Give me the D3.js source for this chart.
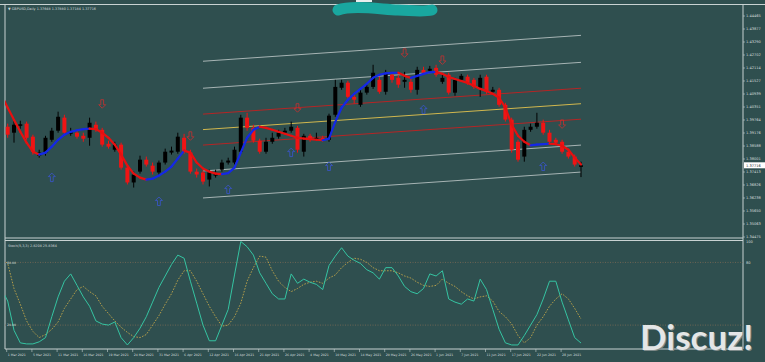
<!DOCTYPE html>
<html><head><meta charset="utf-8">
<script src="https://cdn.jsdelivr.net/npm/d3@7"></script>
<style>html,body{margin:0;padding:0;background:#2f4f4f;overflow:hidden}</style>
</head><body><svg id="c" width="765" height="362"></svg>
<script>
// ---------- data ----------
const chartTitle = "▼ GBPUSD,Daily 1.37648 1.37880 1.37184 1.37716";
const stochTitle = "Stoch(5,3,3) 2.8208 25.8364";
const openP = [1.3968,1.3946,1.3919,1.3950,1.3960,1.3901,1.3815,1.3829,1.3887,1.3928,
1.3987,1.3914,1.3919,1.3905,1.3896,1.3955,1.3932,1.3869,1.3842,1.3865,
1.3761,1.3694,1.3743,1.3797,1.3770,1.3739,1.3784,1.3829,1.3833,1.3896,
1.3829,1.3743,1.3739,1.3707,1.3725,1.3752,1.3784,1.3784,1.3833,1.3987,
1.3941,1.3883,1.3833,1.3878,1.3901,1.3919,1.3928,1.3941,1.3833,1.3905,
1.3892,1.3896,1.3887,1.4000,1.4122,1.4145,1.4081,1.4045,1.4100,1.4126,
1.4158,1.4104,1.4181,1.4167,1.4149,1.4149,1.4113,1.4203,1.4199,1.4212,
1.4149,1.4181,1.4100,1.4158,1.4172,1.4158,1.4122,1.4172,1.4104,1.4113,
1.4045,1.3978,1.3878,1.3811,1.3932,1.3946,1.3964,1.3919,1.3887,1.3878,
1.3833,1.3811,1.37648];
const highP = [1.3987,1.3960,1.3982,1.3973,1.3969,1.3910,1.3842,1.3905,1.3941,1.4014,
1.4000,1.3941,1.3932,1.3919,1.3987,1.3969,1.3941,1.3883,1.3878,1.3874,
1.3770,1.3743,1.3815,1.3811,1.3784,1.3793,1.3847,1.3856,1.3919,1.3914,
1.3842,1.3757,1.3748,1.3752,1.3752,1.3797,1.3806,1.3856,1.4000,1.4009,
1.3955,1.3892,1.3896,1.3919,1.3932,1.3941,1.3969,1.3950,1.3914,1.3914,
1.3919,1.3905,1.4005,1.4158,1.4158,1.4154,1.4095,1.4113,1.4140,1.4226,
1.4172,1.4203,1.4194,1.4181,1.4194,1.4163,1.4217,1.4217,1.4221,1.4226,
1.4181,1.4190,1.4167,1.4185,1.4181,1.4167,1.4181,1.4181,1.4126,1.4122,
1.4054,1.3987,1.3887,1.3946,1.3960,1.4009,1.3978,1.3932,1.3896,1.3887,
1.3842,1.3820,1.37880];
const lowP = [1.3905,1.3896,1.3874,1.3937,1.3887,1.3820,1.3806,1.3815,1.3878,1.3919,
1.3910,1.3905,1.3892,1.3878,1.3860,1.3923,1.3856,1.3847,1.3833,1.3752,
1.3685,1.3671,1.3734,1.3766,1.3730,1.3725,1.3775,1.3820,1.3824,1.3824,
1.3734,1.3716,1.3685,1.3676,1.3716,1.3743,1.3775,1.3775,1.3824,1.3928,
1.3874,1.3824,1.3824,1.3869,1.3892,1.3910,1.3919,1.3829,1.3811,1.3878,
1.3883,1.3878,1.3878,1.3991,1.4113,1.4072,1.4050,1.4036,1.4091,1.4117,
1.4095,1.4091,1.4145,1.4122,1.4122,1.4100,1.4091,1.4181,1.4190,1.4172,
1.4140,1.4091,1.4086,1.4149,1.4136,1.4117,1.4081,1.4095,1.4095,1.4036,
1.3969,1.3829,1.3788,1.3788,1.3923,1.3937,1.3910,1.3869,1.3865,1.3824,
1.3802,1.3766,1.37184];
const closeP = [1.3919,1.3910,1.3955,1.3957,1.3896,1.3833,1.3829,1.3896,1.3928,1.3991,
1.3919,1.3923,1.3901,1.3892,1.3964,1.3932,1.3865,1.3856,1.3865,1.3761,
1.3694,1.3730,1.3797,1.3775,1.3743,1.3784,1.3833,1.3838,1.3901,1.3833,
1.3743,1.3730,1.3698,1.3739,1.3734,1.3784,1.3793,1.3842,1.3987,1.3941,
1.3883,1.3833,1.3878,1.3896,1.3919,1.3928,1.3946,1.3842,1.3905,1.3887,
1.3896,1.3887,1.3996,1.4126,1.4145,1.4081,1.4068,1.4100,1.4126,1.4190,
1.4104,1.4190,1.4158,1.4136,1.4158,1.4113,1.4203,1.4190,1.4208,1.4181,
1.4167,1.4100,1.4158,1.4176,1.4145,1.4126,1.4167,1.4104,1.4113,1.4045,
1.3978,1.3842,1.3797,1.3932,1.3946,1.3964,1.3919,1.3878,1.3874,1.3833,
1.3811,1.3775,1.37716];
const trendLine = [1.4090,1.4032,1.3977,1.3923,1.3874,1.3833,1.3820,1.3829,1.3856,1.3887,
1.3910,1.3923,1.3930,1.3935,1.3937,1.3935,1.3919,1.3896,1.3865,1.3820,
1.3770,1.3734,1.3716,1.3707,1.3711,1.3725,1.3743,1.3766,1.3802,1.3838,
1.3829,1.3784,1.3757,1.3743,1.3734,1.3732,1.3736,1.3761,1.3829,1.3896,
1.3932,1.3946,1.3941,1.3932,1.3923,1.3914,1.3905,1.3896,1.3892,1.3890,
1.3887,1.3885,1.3892,1.3968,1.4032,1.4068,1.4095,1.4117,1.4140,1.4167,
1.4181,1.4187,1.4189,1.4190,1.4176,1.4167,1.4176,1.4185,1.4192,1.4194,
1.4185,1.4171,1.4162,1.4153,1.4144,1.4131,1.4117,1.4108,1.4095,1.4077,
1.4032,1.3955,1.3905,1.3878,1.3862,1.3865,1.3867,1.3869,1.3867,1.3860,
1.3842,1.3806,1.3775];
const channelBars = [32, 92];
const channelMid = [1.3933, 1.4050];
const channelDevs = [0.0070, 0.0187, 0.0309];
const sellBars = [16, 30, 47, 64, 70, 89];
const sellPrices = [1.4050, 1.3905, 1.4032, 1.4280, 1.4248, 1.3959];
const buyBars = [8, 25, 36, 46, 52, 67, 86];
const buyPrices = [1.3716, 1.3608, 1.3662, 1.3829, 1.3766, 1.4023, 1.3766];
const stochMain = [55,43,15,3,2,2,4,8,28,47,62,69,58,47,38,24,21,20,23,8,
1,8,17,28,42,56,67,78,87,84,62,41,20,5,5,20,35,68,100,95,
87,70,60,50,45,45,69,60,64,61,59,54,77,86,94,86,82,79,73,70,
64,75,75,67,57,52,50,55,69,67,72,45,42,40,45,43,64,54,35,16,
3,1,1,10,20,30,45,62,62,42,25,8,2.8208];
const stochSignal = [84,79,55,40,24,14,8,11,16,23,36,45,54,57,52,48,38,31,24,18,
13,9,8,11,20,29,40,50,63,72,72,62,50,38,28,19,20,28,41,62,
75,86,85,72,62,56,52,55,59,61,62,60,65,68,75,80,84,83,80,75,
72,72,72,70,67,65,61,58,57,58,64,60,57,52,48,45,47,48,43,33,
28,21,10,3,8,20,28,38,45,50,45,36,25.8364];
const stochLevels = [80, 20];
const stochAxisTicks = [100, 80];
const priceTicks = [1.44465,1.43877,1.43290,1.42702,1.42114,1.41527,1.40939,1.40351,1.39764,
1.39176,1.38588,1.38001,1.37413,1.36826,1.36238,1.35650,1.35063,1.34475];
const dateLabels = ["1 Mar 2021","5 Mar 2021","11 Mar 2021","16 Mar 2021","19 Mar 2021","24 Mar 2021",
"31 Mar 2021","6 Apr 2021","12 Apr 2021","16 Apr 2021","21 Apr 2021","26 Apr 2021","4 May 2021",
"10 May 2021","14 May 2021","20 May 2021","26 May 2021","1 Jun 2021","7 Jun 2021","11 Jun 2021",
"17 Jun 2021","22 Jun 2021","28 Jun 2021"];
const dateLabelBars = dateLabels.map((d,k)=>1+4*k);

// ---------- layout ----------
const W=765,H=362;
const L=5,R=743,T=4.5,MB=238,ST=241,SB=349;
const BG="#2f4f4f", FG="#d4dcdc", FONT="DejaVu Sans, Liberation Sans, sans-serif";
const svg=d3.select("#c");
svg.append("rect").attr("width",W).attr("height",H).attr("fill",BG);
const defs=svg.append("defs");
defs.append("clipPath").attr("id","cm").append("rect").attr("x",L).attr("y",T).attr("width",R-L).attr("height",MB-T);
defs.append("clipPath").attr("id","cs").append("rect").attr("x",L).attr("y",ST).attr("width",R-L).attr("height",SB-ST);

const n=closeP.length;
const x=d3.scaleLinear().domain([0,92]).range([1.4,581]);
const y=d3.scaleLinear().domain([1.34475,1.44465]).range([237,16]);
const ys=d3.scaleLinear().domain([0,100]).range([346,241.5]);

// frame
const fr=svg.append("g").attr("stroke","#c8d2d2").attr("stroke-width",1).attr("fill","none");
fr.append("line").attr("x1",0).attr("x2",W).attr("y1",T).attr("y2",T);
fr.append("line").attr("x1",L).attr("x2",L).attr("y1",T).attr("y2",SB);
fr.append("line").attr("x1",R).attr("x2",R).attr("y1",T).attr("y2",SB);
fr.append("line").attr("x1",L).attr("x2",R).attr("y1",MB).attr("y2",MB);
fr.append("line").attr("x1",L).attr("x2",R).attr("y1",ST-0.5).attr("y2",ST-0.5);
fr.append("line").attr("x1",L).attr("x2",R).attr("y1",SB).attr("y2",SB);

// main panel
const gm=svg.append("g").attr("clip-path","url(#cm)");
// regression channel
const c0=channelBars[0], c1=channelBars[1];
const chan=[{d:0,c:"#e3c34e"}];
channelDevs.forEach((dv,k)=>{const col=k===0?"#c42020":"#b4c0c0";chan.push({d:dv,c:col});chan.push({d:-dv,c:col});});
chan.forEach(o=>{
  gm.append("line").attr("x1",x(c0)).attr("x2",x(c1))
    .attr("y1",y(channelMid[0]+o.d)).attr("y2",y(channelMid[1]+o.d))
    .attr("stroke",o.c).attr("stroke-width",0.9);
});
// candles
for(let j=0;j<n;j++){
  const up=closeP[j]>=openP[j];
  const col=up?"#000000":"#f01414";
  const cx=x(j);
  gm.append("line").attr("x1",cx).attr("x2",cx).attr("y1",y(highP[j])).attr("y2",y(lowP[j]))
    .attr("stroke",col).attr("stroke-width",1);
  const y0=y(Math.max(openP[j],closeP[j])), y1=y(Math.min(openP[j],closeP[j]));
  gm.append("rect").attr("x",cx-2).attr("width",4).attr("y",y0).attr("height",Math.max(1,y1-y0)).attr("fill",col);
}
// trend line
for(let j=1;j<trendLine.length;j++){
  const upT=trendLine[j]>trendLine[j-1];
  gm.append("line").attr("x1",x(j-1)).attr("x2",x(j)).attr("y1",y(trendLine[j-1])).attr("y2",y(trendLine[j]))
    .attr("stroke",upT?"#1428e6":"#e61010").attr("stroke-width",2.2).attr("stroke-linecap","round");
}
// arrows
const upArrow="M0,-4.5 L3.5,-1 L1.4,-1 L1.4,4 L-1.4,4 L-1.4,-1 L-3.5,-1 Z";
const dnArrow="M0,4.5 L3.5,1 L1.4,1 L1.4,-4 L-1.4,-4 L-1.4,1 L-3.5,1 Z";
sellBars.forEach((b,k)=>gm.append("path").attr("d",dnArrow).attr("transform",`translate(${x(b)},${y(sellPrices[k])})`)
  .attr("fill","none").attr("stroke","#c83030").attr("stroke-width",0.8));
buyBars.forEach((b,k)=>gm.append("path").attr("d",upArrow).attr("transform",`translate(${x(b)},${y(buyPrices[k])})`)
  .attr("fill","none").attr("stroke","#3a56d0").attr("stroke-width",0.8));

// price axis
const tf=3.6;
priceTicks.forEach(v=>{
  svg.append("line").attr("x1",R).attr("x2",R+2).attr("y1",y(v)).attr("y2",y(v)).attr("stroke","#c8d2d2").attr("stroke-width",0.6);
  svg.append("text").attr("x",R+3).attr("y",y(v)+1.3).text(v.toFixed(5))
    .attr("font-family",FONT).attr("font-size",tf).attr("fill",FG);
});
const lastC=closeP[n-1];
svg.append("rect").attr("x",R+1).attr("y",y(lastC)-3).attr("width",21).attr("height",6).attr("fill","#ffffff");
svg.append("text").attr("x",R+3).attr("y",y(lastC)+1.3).text(lastC.toFixed(5))
  .attr("font-family",FONT).attr("font-size",tf).attr("fill","#1a2a2a");
svg.append("text").attr("x",8).attr("y",10).text(chartTitle).attr("font-family",FONT).attr("font-size",3.4).attr("fill",FG);

// stoch panel
const gs=svg.append("g").attr("clip-path","url(#cs)");
stochLevels.forEach(v=>gs.append("line").attr("x1",L).attr("x2",R).attr("y1",ys(v)).attr("y2",ys(v))
  .attr("stroke","#7d6a55").attr("stroke-width",0.8).attr("stroke-dasharray","1,1.5"));
const line=d3.line().x((d,i)=>x(i)).y(d=>ys(d));
gs.append("path").attr("d",line(stochSignal)).attr("fill","none").attr("stroke","#c2a64a").attr("stroke-width",0.9).attr("stroke-dasharray","1.6,1.4");
gs.append("path").attr("d",line(stochMain)).attr("fill","none").attr("stroke","#35c4a2").attr("stroke-width",1);
svg.append("text").attr("x",8).attr("y",247).text(stochTitle).attr("font-family",FONT).attr("font-size",3.4).attr("fill",FG);
stochAxisTicks.forEach(v=>svg.append("text").attr("x",R+3).attr("y",ys(v)+1.3).text(String(v))
  .attr("font-family",FONT).attr("font-size",tf).attr("fill",FG));
stochLevels.forEach(v=>svg.append("text").attr("x",7).attr("y",ys(v)+1.3).text(v.toFixed(2))
  .attr("font-family",FONT).attr("font-size",3.2).attr("fill",FG));

// time axis
dateLabels.forEach((t,k)=>{
  const bx=x(dateLabelBars[k]);
  svg.append("line").attr("x1",bx-1).attr("x2",bx-1).attr("y1",SB).attr("y2",SB+3).attr("stroke","#c8d2d2").attr("stroke-width",0.6);
  svg.append("text").attr("x",bx).attr("y",355.5).text(t).attr("font-family",FONT).attr("font-size",3.2).attr("fill",FG);
});

// redaction blob at top
svg.append("path").attr("d","M338,10 C352,5 378,9 398,10 S424,12 432,10")
  .attr("fill","none").attr("stroke","#19a79f").attr("stroke-width",11).attr("stroke-linecap","round").attr("stroke-linejoin","round");
svg.append("path").attr("d","M356,1 L372,1").attr("stroke","#e8eeee").attr("stroke-width",2);

// watermark
svg.append("text").attr("x",641).attr("y",351).text("Discuz!").attr("font-family","Lato, sans-serif")
  .attr("font-weight","bold").attr("font-size",35).attr("fill","#7e8a8a");
svg.append("text").attr("x",640).attr("y",350).text("Discuz!").attr("font-family","Lato, sans-serif")
  .attr("font-weight","bold").attr("font-size",35).attr("fill","#e4e6e6");
</script></body></html>
